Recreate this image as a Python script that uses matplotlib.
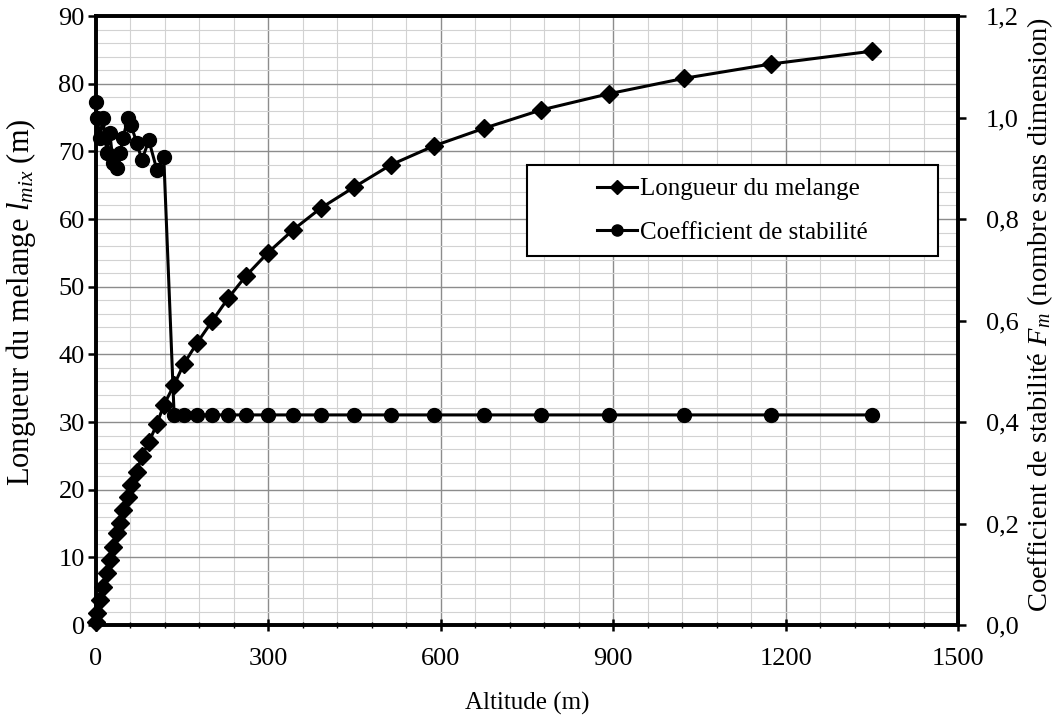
import numpy as np
import matplotlib
matplotlib.use('Agg')
import matplotlib.pyplot as plt
from matplotlib.ticker import MultipleLocator, FuncFormatter
from matplotlib.patches import Rectangle

plt.rcParams['font.family'] = ['Liberation Serif', 'DejaVu Serif']
plt.rcParams['mathtext.fontset'] = 'custom'
plt.rcParams['mathtext.rm'] = 'Liberation Serif'
plt.rcParams['mathtext.it'] = 'Liberation Serif:italic'

# altitude (m) of each level
altitude = [0, 2, 7, 12, 19, 24, 30, 37, 42, 47, 56, 61, 71, 80, 92, 106, 118,
            136, 153, 176, 202, 230, 261, 299, 343, 391, 449, 513, 588, 675,
            774, 892, 1024, 1174, 1350]
# mixing length l_mix (m)
longueur = [0.4, 1.8, 3.7, 5.6, 7.7, 9.6, 11.5, 13.6, 15.1, 17.0, 18.9, 20.7,
            22.6, 25.0, 27.0, 29.7, 32.5, 35.5, 38.6, 41.7, 44.9, 48.3, 51.6,
            55.0, 58.4, 61.6, 64.7, 68.0, 70.8, 73.4, 76.1, 78.5, 80.8, 82.9,
            84.8]
# stability coefficient F_m
stabilite = [1.03, 1.0, 0.96, 1.0, 0.93, 0.97, 0.91, 0.90, 0.93, 0.96, 1.0,
             0.985, 0.95, 0.916, 0.955, 0.897, 0.922,
             0.414, 0.414, 0.414, 0.414, 0.414, 0.414, 0.414, 0.414, 0.414,
             0.414, 0.414, 0.414, 0.414, 0.414, 0.414, 0.414, 0.414, 0.414]

fig = plt.figure(figsize=(10.58, 7.21), dpi=100)
ax = fig.add_axes([0.0907, 0.1331, 0.8148, 0.8447])
ax2 = ax.twinx()

l1, = ax.plot(altitude, longueur, color='black', lw=2.2, marker='D', ms=9.5,
              label='Longueur du melange', clip_on=False, zorder=3)
l2, = ax2.plot(altitude, stabilite, color='black', lw=2.2, marker='o', ms=10,
               label='Coefficient de stabilité', clip_on=False, zorder=3)

ax.set_xlim(0, 1500)
ax.set_ylim(0, 90)
ax2.set_ylim(0, 1.2)

ax.xaxis.set_major_locator(MultipleLocator(300))
ax.xaxis.set_minor_locator(MultipleLocator(60))
ax.yaxis.set_major_locator(MultipleLocator(10))
ax.yaxis.set_minor_locator(MultipleLocator(2))
ax2.yaxis.set_major_locator(MultipleLocator(0.2))
ax2.yaxis.set_major_formatter(FuncFormatter(lambda v, p: f"{v:.1f}".replace('.', ',')))

ax.grid(True, which='minor', color='#d2d2d2', lw=0.8)
ax.grid(True, which='major', color='#8c8c8c', lw=1.0)
ax.set_axisbelow(True)

for a in (ax, ax2):
    for s in a.spines.values():
        s.set_linewidth(2.6)

ax.tick_params(axis='x', which='major', direction='inout', length=9, width=1.8,
               labelsize=19, pad=12)
ax.tick_params(axis='x', which='minor', direction='inout', length=4, width=1)
ax.tick_params(axis='y', which='major', direction='out', length=6, width=1.8,
               labelsize=19, pad=2)
ax.tick_params(axis='y', which='minor', length=0)
ax2.tick_params(axis='y', direction='out', length=6, width=1.8, labelsize=19, pad=14)

ax.set_xlabel('Altitude (m)', fontsize=18, labelpad=16)
ax.set_ylabel('Longueur du melange $l_{mix}$ (m)', fontsize=22)
ax.yaxis.set_label_coords(-0.067, 0.53)
ax2.set_ylabel('Coefficient de stabilité $F_m$ (nombre sans dimension)',
               fontsize=20.5)
ax2.yaxis.set_label_coords(1.078, 0.51)

ax2.add_patch(Rectangle((0.5, 0.606), 0.477, 0.149, transform=ax2.transAxes,
                        facecolor='white', edgecolor='black', lw=1.5, zorder=4))
leg = ax2.legend(handles=[l1, l2], loc='center', bbox_to_anchor=(0.7385, 0.68),
                 frameon=False, fontsize=18, handlelength=1.6,
                 handletextpad=0.1, labelspacing=0.85, markerscale=0.8)
leg.set_zorder(5)

fig.savefig('out.png', dpi=100)
